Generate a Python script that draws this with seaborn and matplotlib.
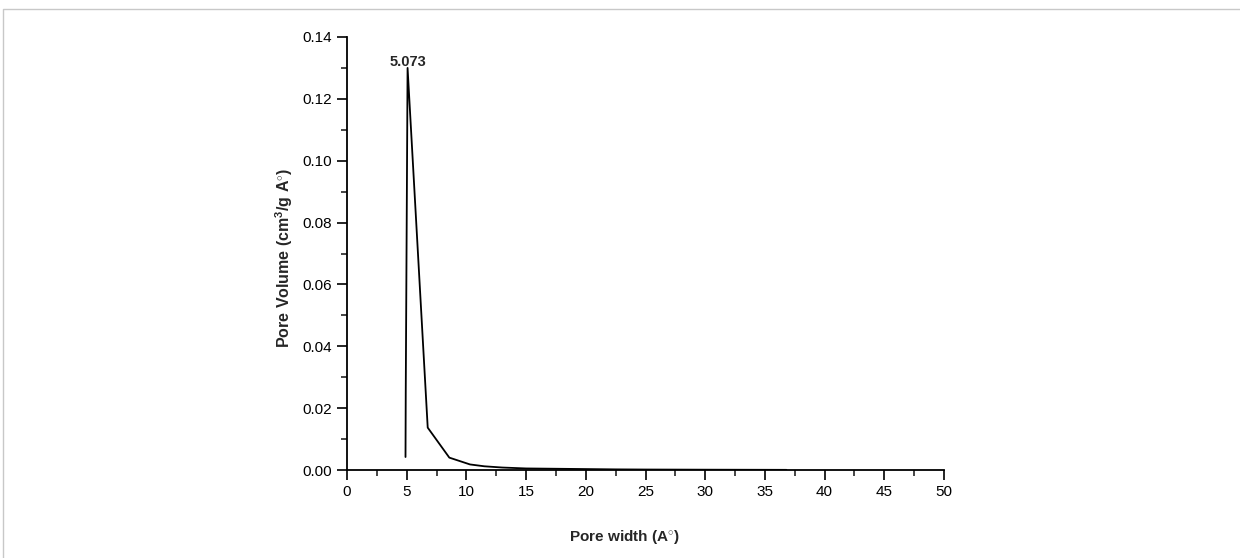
import numpy as np
import pandas as pd
import matplotlib
matplotlib.use("Agg")
import matplotlib.pyplot as plt
from matplotlib.ticker import MultipleLocator
from matplotlib.lines import Line2D
import seaborn as sns

# pore size distribution
pore_width = [4.90, 4.92, 5.073, 6.76, 8.57, 10.3, 11.5, 13.0, 15.0, 17.5,
              20.0, 22.5, 25.0, 30.0, 36.8]
pore_volume = [0.0042, 0.0253, 0.1300, 0.0137, 0.0040, 0.0018, 0.0012, 0.0008,
               0.0005, 0.0004, 0.0003, 0.0002, 0.00015, 0.0001, 0.00005]
peak_label = "5.073"

df = pd.DataFrame({"width": pore_width, "volume": pore_volume})

sns.set_style("ticks")
plt.rcParams['font.family'] = ['Liberation Sans', 'DejaVu Sans']
plt.rcParams['mathtext.fontset'] = 'custom'
plt.rcParams['mathtext.bf'] = 'Liberation Sans:bold'
plt.rcParams['mathtext.rm'] = 'Liberation Sans'
plt.rcParams['mathtext.default'] = 'bf'

fig = plt.figure(figsize=(12.4, 5.58), dpi=100)
ax = fig.add_axes([347 / 1240, 1 - 470 / 558, 597 / 1240, 433 / 558])

sns.lineplot(data=df, x="width", y="volume", ax=ax, color="black",
             linewidth=1.3, sort=False, estimator=None)

ax.set_xlim(0, 50)
ax.set_ylim(0, 0.14)
ax.xaxis.set_major_locator(MultipleLocator(5))
ax.xaxis.set_minor_locator(MultipleLocator(2.5))
ax.yaxis.set_major_locator(MultipleLocator(0.02))
ax.yaxis.set_minor_locator(MultipleLocator(0.01))
ax.yaxis.set_major_formatter(plt.FormatStrFormatter('%.2f'))

ax.tick_params(which="major", direction="out", length=7, width=1.2,
               labelsize=11, colors="black", pad=4)
ax.tick_params(which="minor", direction="out", length=4, width=1.2)

sns.despine(ax=ax)
for side in ["left", "bottom"]:
    ax.spines[side].set_linewidth(1.3)
    ax.spines[side].set_color("black")

ax.set_xlabel(r"Pore width (A$^{\circ}$)", fontsize=11, fontweight="bold")
ax.xaxis.set_label_coords(0.464, -0.135)
ax.set_ylabel(r"Pore Volume (cm$^{3}$/g A$^{\circ}$)", fontsize=11.5,
              fontweight="bold")
ax.yaxis.set_label_coords(-0.087, 0.49)

peak_i = int(np.argmax(pore_volume))
ax.annotate(peak_label, xy=(pore_width[peak_i], pore_volume[peak_i]),
            xytext=(0, -1), textcoords="offset points", ha="center",
            va="bottom", fontsize=10.5, fontweight="bold")

# thin grey frame of the original picture
fig.add_artist(Line2D([3 / 1240, 3 / 1240, 1], [0, 1 - 9 / 558, 1 - 9 / 558],
                      transform=fig.transFigure, color="#c8c8c8", linewidth=1))

fig.savefig("out.png", dpi=100)
